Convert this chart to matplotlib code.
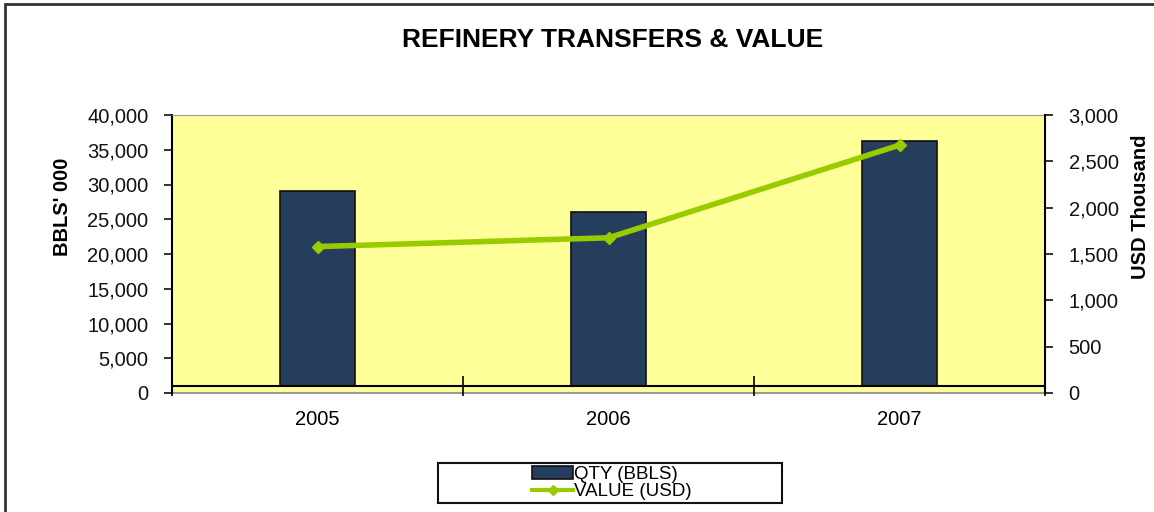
import matplotlib
matplotlib.use('Agg')
import matplotlib.pyplot as plt
from matplotlib.patches import Rectangle
from matplotlib.lines import Line2D
from matplotlib.ticker import FuncFormatter, FixedLocator
import numpy as np

plt.rcParams['font.family'] = ['Liberation Sans', 'DejaVu Sans']

# data
years = ['2005', '2006', '2007']
qty_bbls = [29100, 26100, 36200]      # BBLS' 000, left axis
value_usd = [1580, 1675, 2675]        # USD thousand, right axis
axis_cross = 1000                     # category axis crosses the left axis here

navy = '#263E5D'
green = '#99CC00'
yellow = '#FFFF99'

W, H = 1154, 512
fig = plt.figure(figsize=(W / 100, H / 100), dpi=100)
fig.patch.set_facecolor('white')

# outer chart border (only top/left visible)
fig.patches.append(Rectangle((5 / W, -0.05), 1.2, 1 - 4 / H + 0.05, transform=fig.transFigure,
                             fill=False, edgecolor='#333333', lw=2, zorder=0))

ax = fig.add_axes([172 / W, 1 - 393 / H, (1045 - 172) / W, (393 - 115) / H])
ax.set_facecolor(yellow)

x = np.arange(len(years))
heights = [q - axis_cross for q in qty_bbls]
ax.bar(x, heights, bottom=axis_cross, width=0.26, color=navy, edgecolor='#111111', lw=1.2,
       zorder=2)

ax.set_xlim(-0.5, len(years) - 0.5)
ax.set_ylim(0, 40000)
ax.set_yticks(np.arange(0, 40001, 5000))
ax.yaxis.set_major_formatter(FuncFormatter(lambda v, p: f'{int(v):,}'))
ax.tick_params(axis='y', direction='out', length=6, width=1.2, pad=11, labelsize=14.5,
               colors='#111111')

# category axis sits at the crossing value
ax.spines['bottom'].set_position(('data', axis_cross))
ax.spines['bottom'].set_linewidth(1.5)
ax.spines['left'].set_linewidth(1.5)
ax.spines['top'].set_color('#999999')
ax.spines['right'].set_visible(False)
ax.set_xticks(x)
ax.set_xticklabels(years)
ax.xaxis.set_minor_locator(FixedLocator(np.arange(-0.5, len(years), 1.0)))
ax.tick_params(axis='x', which='major', length=0, pad=17, labelsize=14.5)
ax.tick_params(axis='x', which='minor', direction='inout', length=14, width=1.2)
ax.axhline(0, color='#999999', lw=1.5, clip_on=False, zorder=1)

ax.set_ylabel("BBLS' 000", fontsize=14.5, fontweight='bold')
ax.yaxis.set_label_coords(-0.115, 0.67)

ax2 = ax.twinx()
ax2.plot(x, value_usd, color=green, lw=4, marker='D', markersize=6, zorder=3)
ax2.set_ylim(0, 3000)
ax2.set_yticks(np.arange(0, 3001, 500))
ax2.yaxis.set_major_formatter(FuncFormatter(lambda v, p: f'{int(v):,}'))
ax2.tick_params(axis='y', direction='out', length=6, width=1.2, pad=11, labelsize=14.5,
                colors='#111111')
for s in ['top', 'left', 'bottom']:
    ax2.spines[s].set_visible(False)
ax2.spines['right'].set_linewidth(1.5)
ax2.set_ylabel('USD Thousand', fontsize=14.5, fontweight='bold', rotation=90)
ax2.yaxis.set_label_coords(1.098, 0.67)

fig.text(613 / W, 1 - 40 / H, 'REFINERY TRANSFERS & VALUE', ha='center', va='center',
         fontsize=19, fontweight='bold')

# legend box
fig.patches.append(Rectangle((438 / W, 1 - 503 / H), (782 - 438) / W, 40 / H,
                             transform=fig.transFigure, facecolor='white',
                             edgecolor='#111111', lw=1.5, zorder=1))
handles = [Rectangle((0, 0), 1, 1, facecolor=navy, edgecolor='#111111', lw=1.2),
           Line2D([], [], color=green, lw=3, marker='D', markersize=5)]
fig.legend(handles, ['QTY (BBLS)', 'VALUE (USD)'], loc='center',
           bbox_to_anchor=(612 / W, 1 - 483 / H), frameon=False, fontsize=13.5,
           handlelength=2.2, handletextpad=0.05, labelspacing=0.0, borderpad=0)

fig.savefig('out.png', dpi=100)
